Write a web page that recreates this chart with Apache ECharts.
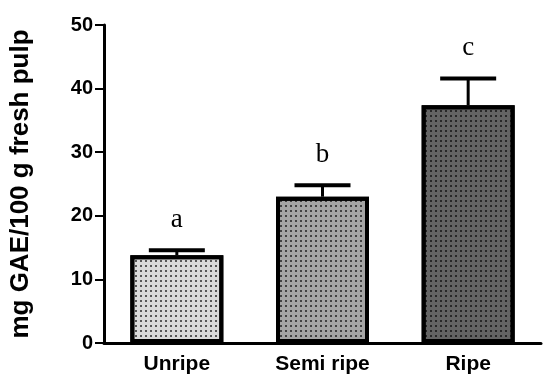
<!DOCTYPE html>
<html><head><meta charset="utf-8">
<script src="https://cdn.jsdelivr.net/npm/echarts@6/dist/echarts.min.js"></script>
<style>html,body{margin:0;padding:0;background:#fff}#c{width:550px;height:387px}</style>
</head><body><div id="c"></div>
<script>
const categories = ['Unripe', 'Semi ripe', 'Ripe'];
const means = [13.8, 23.0, 37.4];
const errors = [0.8, 1.8, 4.2];
const letters = ['a', 'b', 'c'];
const barColors = ['#dadada', '#a5a5a5', '#646464'];
const yTicks = [0, 10, 20, 30, 40, 50];

const chart = echarts.init(document.getElementById('c'));
const dotDecal = {symbol: 'rect', symbolSize: 1, dashArrayX: [1.5, 2.5], dashArrayY: [1.5, 2.5], color: 'rgba(0,0,0,0.6)'};
chart.setOption({
  animation: false,
  grid: {left: 103, right: 9, top: 25, bottom: 44},
  xAxis: {
    type: 'category', data: categories,
    axisLine: {lineStyle: {color: '#000', width: 3}},
    axisTick: {alignWithLabel: true, length: 6, lineStyle: {width: 2, color: '#000'}},
    axisLabel: {color: '#000', fontFamily: 'Liberation Sans', fontWeight: 'bold', fontSize: 21, margin: 11}
  },
  yAxis: {
    type: 'value', min: yTicks[0], max: yTicks[yTicks.length - 1], interval: 10,
    name: 'mg GAE/100 g fresh pulp', nameLocation: 'middle', nameGap: 70,
    nameTextStyle: {color: '#000', fontFamily: 'Liberation Sans', fontWeight: 'bold', fontSize: 26},
    axisLine: {show: true, lineStyle: {color: '#000', width: 3}},
    axisTick: {show: true, length: 9, lineStyle: {width: 2, color: '#000'}},
    splitLine: {show: false},
    axisLabel: {color: '#000', fontFamily: 'Liberation Sans', fontWeight: 'bold', fontSize: 20, margin: 11}
  },
  series: [
    {
      type: 'bar', barWidth: 93,
      data: means.map((v, i) => ({value: v, itemStyle: {color: barColors[i], decal: dotDecal}})),
      itemStyle: {borderColor: '#000', borderWidth: 4},
      z: 2
    },
    {
      type: 'custom',
      data: means.map((v, i) => [i, v, errors[i]]),
      z: 1,
      renderItem: function (params, api) {
        const i = api.value(0), m = api.value(1), e = api.value(2);
        const top = api.coord([i, m + e]);
        const base = api.coord([i, m]);
        const half = 28;
        return {
          type: 'group',
          children: [
            {type: 'line', shape: {x1: top[0], y1: top[1], x2: top[0], y2: base[1]}, style: {stroke: '#000', lineWidth: 3}},
            {type: 'line', shape: {x1: top[0] - half, y1: top[1], x2: top[0] + half, y2: top[1]}, style: {stroke: '#000', lineWidth: 4}},
            {type: 'text', x: top[0], y: top[1] - 17, style: {text: letters[params.dataIndex], fill: '#000', font: '27px "Liberation Serif"', align: 'center', verticalAlign: 'bottom'}}
          ]
        };
      }
    }
  ]
});
</script></body></html>
